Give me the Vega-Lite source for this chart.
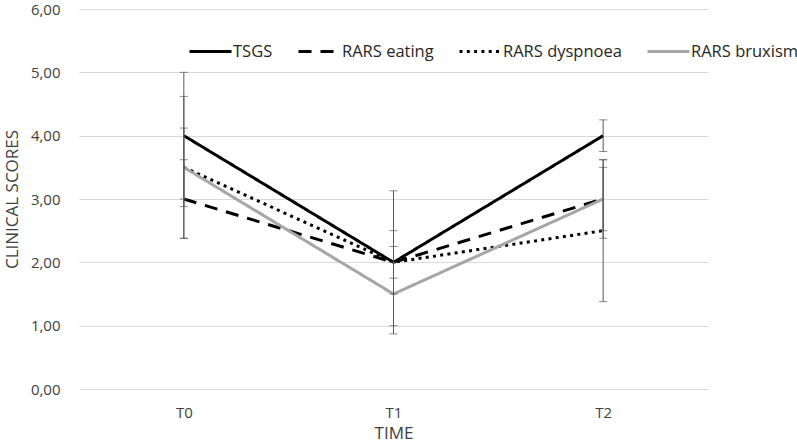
{
  "$schema": "https://vega.github.io/schema/vega-lite/v6.json",
  "width": 629,
  "height": 380,
  "autosize": "none",
  "padding": {"left": 79, "top": 9, "right": 89, "bottom": 59},
  "background": "white",
  "config": {
    "font": "Open Sans",
    "view": {"stroke": null}
  },
  "data": {
    "values": [
      {"series": "TSGS", "time": "T0", "value": 4.0, "lo": 3.0, "hi": 5.0},
      {"series": "TSGS", "time": "T1", "value": 2.0, "lo": 0.87, "hi": 3.13},
      {"series": "TSGS", "time": "T2", "value": 4.0, "lo": 3.75, "hi": 4.25},
      {"series": "RARS eating", "time": "T0", "value": 3.0, "lo": 2.38, "hi": 3.62},
      {"series": "RARS eating", "time": "T1", "value": 2.0, "lo": 1.5, "hi": 2.5},
      {"series": "RARS eating", "time": "T2", "value": 3.0, "lo": 2.38, "hi": 3.62},
      {"series": "RARS dyspnoea", "time": "T0", "value": 3.5, "lo": 2.88, "hi": 4.12},
      {"series": "RARS dyspnoea", "time": "T1", "value": 2.0, "lo": 1.75, "hi": 2.25},
      {"series": "RARS dyspnoea", "time": "T2", "value": 2.5, "lo": 1.38, "hi": 3.62},
      {"series": "RARS bruxism", "time": "T0", "value": 3.5, "lo": 2.38, "hi": 4.62},
      {"series": "RARS bruxism", "time": "T1", "value": 1.5, "lo": 1.0, "hi": 2.0},
      {"series": "RARS bruxism", "time": "T2", "value": 3.0, "lo": 2.5, "hi": 3.5}
    ]
  },
  "encoding": {
    "x": {
      "field": "time", "type": "nominal",
      "scale": {"type": "point", "padding": 0.5},
      "axis": {
        "title": "TIME", "labelAngle": 0, "domain": false, "ticks": false,
        "labelFontSize": 15, "labelColor": "#404040", "labelPadding": 16,
        "titleFontSize": 17, "titleColor": "#404040", "titleFontWeight": "normal", "titlePadding": 5
      }
    }
  },
  "layer": [
    {
      "mark": {"type": "line", "strokeWidth": 3},
      "encoding": {
        "y": {
          "field": "value", "type": "quantitative",
          "scale": {"domain": [0, 6]},
          "axis": {
            "title": "CLINICAL SCORES", "values": [0, 1, 2, 3, 4, 5, 6],
            "labelExpr": "replace(format(datum.value, '.2f'), '.', ',')",
            "domain": false, "ticks": false, "gridColor": "#d9d9d9", "gridWidth": 1,
            "labelFontSize": 15, "labelColor": "#404040", "labelPadding": 19,
            "titleFontSize": 17, "titleColor": "#404040", "titleFontWeight": "normal", "titlePadding": 9
          }
        },
        "color": {
          "field": "series", "type": "nominal",
          "scale": {
            "domain": ["TSGS", "RARS eating", "RARS dyspnoea", "RARS bruxism"],
            "range": ["#000000", "#000000", "#000000", "#a6a6a6"]
          },
          "legend": {
            "title": null, "orient": "none", "direction": "horizontal",
            "legendX": 109, "legendY": 20,
            "symbolType": "stroke", "symbolSize": 1764, "symbolStrokeWidth": 3,
            "labelFontSize": 16.5, "labelColor": "#262626", "labelOffset": 0,
            "columnPadding": 19
          }
        },
        "strokeDash": {
          "field": "series", "type": "nominal",
          "scale": {
            "domain": ["TSGS", "RARS eating", "RARS dyspnoea", "RARS bruxism"],
            "range": [[1, 0], [13, 9], [3, 4.3], [1, 0]]
          },
          "legend": null
        }
      }
    },
    {
      "mark": {"type": "rule", "color": "#595959", "strokeWidth": 1},
      "encoding": {
        "y": {"field": "lo", "type": "quantitative"},
        "y2": {"field": "hi"}
      }
    },
    {
      "mark": {"type": "tick", "color": "#595959", "orient": "horizontal", "size": 8, "thickness": 1},
      "encoding": {"y": {"field": "lo", "type": "quantitative"}}
    },
    {
      "mark": {"type": "tick", "color": "#595959", "orient": "horizontal", "size": 8, "thickness": 1},
      "encoding": {"y": {"field": "hi", "type": "quantitative"}}
    }
  ]
}
